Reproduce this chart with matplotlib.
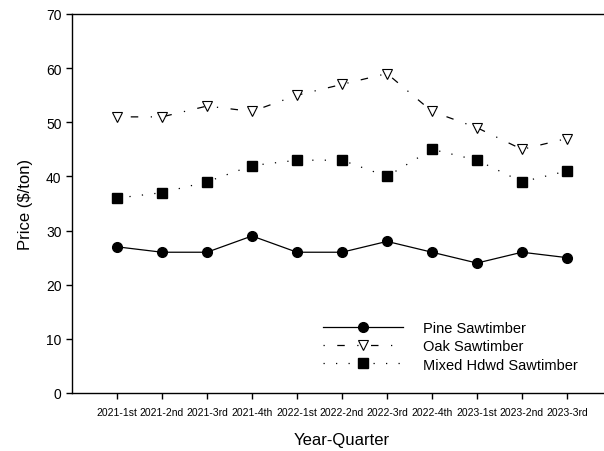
import matplotlib
matplotlib.use('Agg')
import matplotlib.pyplot as plt

plt.rcParams['font.family'] = ['Liberation Sans', 'DejaVu Sans']

quarters = ['2021-1st', '2021-2nd', '2021-3rd', '2021-4th', '2022-1st', '2022-2nd',
            '2022-3rd', '2022-4th', '2023-1st', '2023-2nd', '2023-3rd']
pine = [27, 26, 26, 29, 26, 26, 28, 26, 24, 26, 25]
oak = [51, 51, 53, 52, 55, 57, 59, 52, 49, 45, 47]
mixed = [36, 37, 39, 42, 43, 43, 40, 45, 43, 39, 41]

x = list(range(1, len(quarters) + 1))

fig = plt.figure(figsize=(6.04, 4.52), dpi=100)
ax = fig.add_axes([72 / 604, 58 / 452, 540 / 604, 379 / 452])

ax.plot(x, pine, '-', color='black', lw=0.9, marker='o', ms=7,
        label='Pine Sawtimber')
ax.plot(x, oak, color='black', lw=0.9, ls=(0, (1, 10, 6, 10)), marker='v', ms=7.5,
        mfc='white', mec='black', mew=0.8, label='Oak Sawtimber')
ax.plot(x, mixed, color='black', lw=0.9, ls=(0, (1, 9)), marker='s', ms=7,
        label='Mixed Hdwd Sawtimber')

ax.set_xlim(0, 12)
ax.set_ylim(0, 70)
ax.set_xticks(x)
ax.set_xticklabels(quarters, fontsize=7.5)
ax.set_yticks(range(0, 71, 10))
ax.tick_params(axis='y', labelsize=10, direction='out', length=4, width=1)
ax.tick_params(axis='x', direction='out', length=4, width=1, pad=6)
ax.spines['right'].set_visible(False)
for s in ['left', 'bottom', 'top']:
    ax.spines[s].set_linewidth(1)

ax.set_xlabel('Year-Quarter', fontsize=12, labelpad=11)
ax.set_ylabel('Price ($/ton)', fontsize=12, labelpad=9)

ax.legend(loc='upper left', bbox_to_anchor=(0.44, 0.225), frameon=False,
          fontsize=10.5, handlelength=5.5, numpoints=1, labelspacing=0.3,
          handletextpad=1.4)

fig.savefig('out.png', dpi=100)
